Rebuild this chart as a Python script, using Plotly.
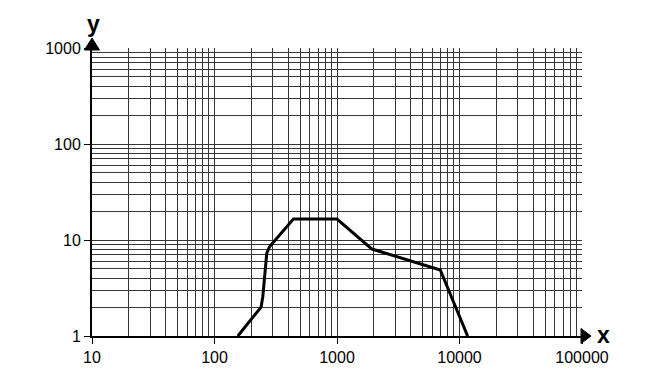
import plotly.graph_objects as go

# data
x_vals = [155, 240, 248, 256, 267, 281, 441, 1000, 1930, 6970, 11650]
y_vals = [1.0, 2.0, 2.57, 3.83, 7.27, 8.5, 16.5, 16.5, 8.05, 4.87, 1.0]

x_major = [10, 100, 1000, 10000, 100000]
x_labels = ["10", "100", "1000", "10000", "100000"]
y_major = [1, 10, 100, 1000]
y_labels = ["1", "10", "100", "1000"]

x_minor = [m * d for d in [10, 100, 1000, 10000] for m in range(2, 10)]
y_minor = [m * d for d in [1, 10, 100] for m in range(2, 10)]

W, H = 650, 384
ML, MR, MT, MB = 84, 76, 40, 56
PW, PH = W - ML - MR, H - MT - MB

GRID = "#363636"
FONT = "Arial, Liberation Sans, sans-serif"

fig = go.Figure()
fig.add_trace(go.Scatter(x=x_vals, y=y_vals, mode="lines",
                         line=dict(color="black", width=3), hoverinfo="skip"))

axis_common = dict(
    type="log", showgrid=True, gridcolor=GRID, gridwidth=1,
    showline=True, linecolor="black", linewidth=2,
    ticks="outside", ticklen=6, tickcolor="black", tickwidth=1,
    zeroline=False, automargin=False,
    tickfont=dict(family=FONT, size=16, color="black"),
)

fig.update_xaxes(range=[1, 5], tickmode="array", tickvals=x_major, ticktext=x_labels,
                 minor=dict(tickvals=x_minor, showgrid=True, gridcolor=GRID, gridwidth=1, ticks=""),
                 **axis_common)
fig.update_yaxes(range=[0, 3], tickmode="array", tickvals=y_major, ticktext=y_labels,
                 minor=dict(tickvals=y_minor, showgrid=True, gridcolor=GRID, gridwidth=1, ticks=""),
                 **axis_common)

def px(dx):
    return dx / PW

def py(dy):
    return dy / PH

# arrowheads
fig.add_shape(type="path", xref="paper", yref="paper",
              path=f"M {-px(7.5)} {1 - py(2)} L {px(7.5)} {1 - py(2)} L 0 {1 + py(10)} Z",
              fillcolor="black", line=dict(color="black", width=1))
fig.add_shape(type="path", xref="paper", yref="paper",
              path=f"M {1 - px(1)} {-py(7.5)} L {1 - px(1)} {py(7.5)} L {1 + px(9)} 0 Z",
              fillcolor="black", line=dict(color="black", width=1))

fig.add_annotation(text="<b>y</b>", xref="paper", yref="paper", x=px(1), y=1 + py(24),
                   xanchor="center", yanchor="middle",
                   showarrow=False, font=dict(family=FONT, size=23, color="black"))
fig.add_annotation(text="<b>x</b>", xref="paper", yref="paper", x=1 + px(21.5), y=py(1),
                   xanchor="center", yanchor="middle",
                   showarrow=False, font=dict(family=FONT, size=23, color="black"))

fig.update_layout(
    width=W, height=H,
    margin=dict(l=ML, r=MR, t=MT, b=MB, autoexpand=False),
    plot_bgcolor="white", paper_bgcolor="white",
    showlegend=False,
)

fig.write_html("out.html")
